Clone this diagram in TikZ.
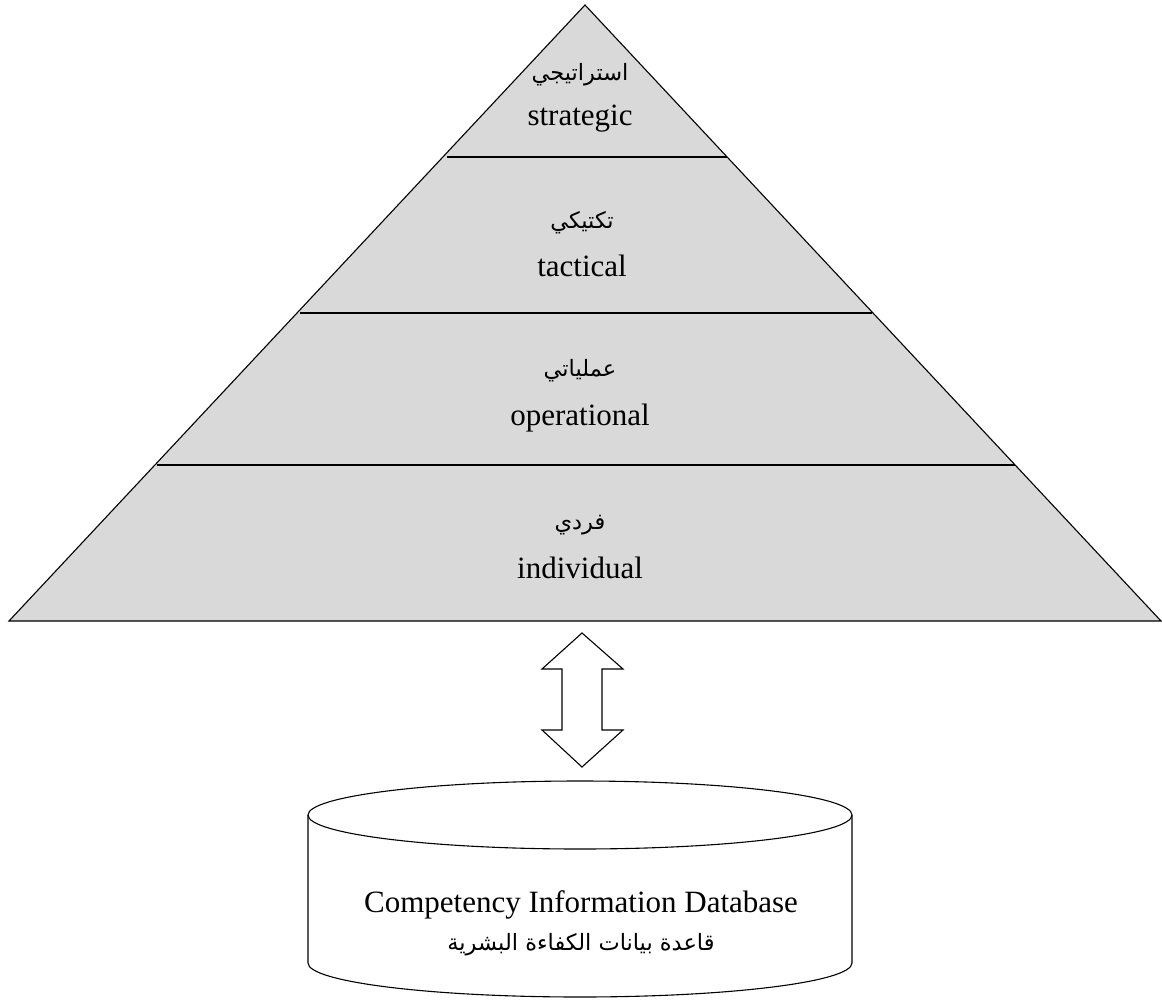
\documentclass[tikz,border=0pt]{standalone}
\usepackage{fontspec}
\setmainfont{Liberation Serif}
\newfontfamily\arabicfont[Script=Arabic]{DejaVu Sans}
\TeXXeTstate=1
\begin{document}
\begin{tikzpicture}[x=1pt,y=-1pt,
  outline/.style={draw=black,line width=1.1pt,line join=miter},
  latin/.style={font=\fontsize{31}{36}\selectfont,inner sep=0pt,anchor=base},
  arab/.style={font=\arabicfont\fontsize{22.5}{27}\selectfont,inner sep=0pt,anchor=base}]
\useasboundingbox (0,0) rectangle (1162,1001);
\fill[white] (0,0) rectangle (1162,1001);

% pyramid
\coordinate (apex) at (585,5);
\coordinate (bl) at (9,621);
\coordinate (br) at (1161,621);
\filldraw[outline,fill=gray!30!white] (apex) -- (br) -- (bl) -- cycle;

% level dividers
\draw[outline] (447,157) -- (727,157);
\draw[outline] (300,313) -- (872,313);
\draw[outline] (157,465) -- (1015,465);

% level labels
\node[arab]  (s1) at (580,80)  {\beginR استراتيجي\endR};
\node[latin] (s2) at (580,125) {strategic};
\node[arab]  (t1) at (582,228) {\beginR تكتيكي\endR};
\node[latin] (t2) at (582,276) {tactical};
\node[arab]  (o1) at (580,376) {\beginR عملياتي\endR};
\node[latin] (o2) at (580,425) {operational};
\node[arab]  (i1) at (580,529) {\beginR فردي\endR};
\node[latin] (i2) at (580,578) {individual};

% two-way block arrow
\coordinate (up) at (582,633);
\coordinate (down) at (582,767);
\draw[outline,fill=white]
  (up) -- (623,669) -- (602,669) -- (602,730) -- (623,730) -- (down)
  -- (542,730) -- (562,730) -- (562,669) -- (542,669) -- cycle;

% database cylinder
\draw[outline,fill=white] (308,815) -- (308,963)
  arc[start angle=180,end angle=0,x radius=272,y radius=34]
  -- (852,815);
\draw[outline,fill=white] (580,815) ellipse[x radius=272,y radius=34];
\node[latin] (db1) at (581,912) {Competency Information Database};
\node[arab]  (db2) at (581,950) {\beginR قاعدة بيانات الكفاءة البشرية\endR};
\end{tikzpicture}
\end{document}
